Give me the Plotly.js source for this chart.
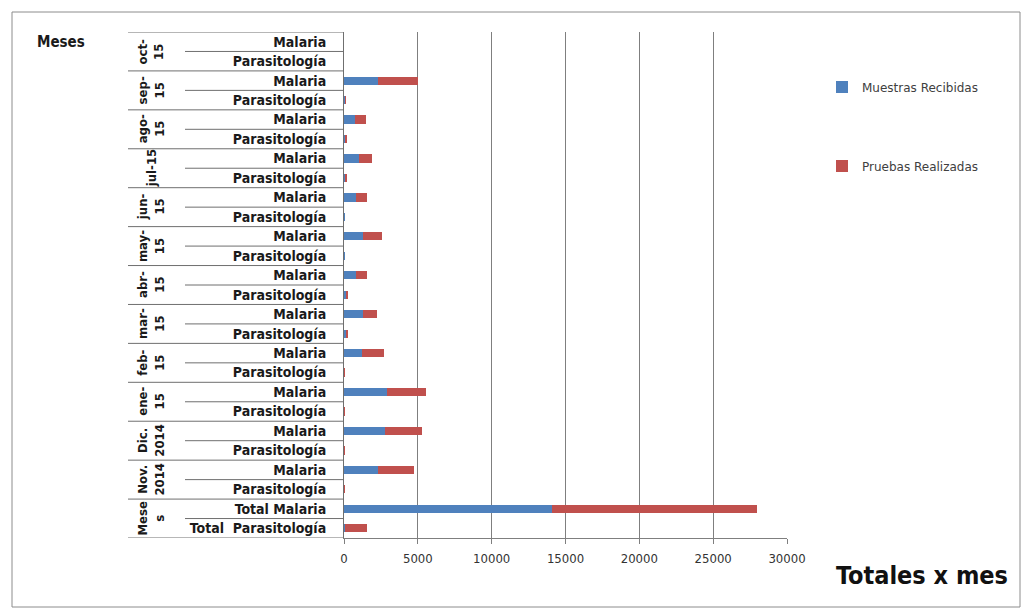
<!DOCTYPE html>
<html>
<head>
<meta charset="utf-8">
<script src="https://cdn.plot.ly/plotly-3.0.1.min.js"></script>
<style>
html,body{margin:0;padding:0;background:#fff;}
#chart{width:1026px;height:614px;}
</style>
</head>
<body>
<div id="chart"></div>
<script>
// Rows listed bottom -> top
const rowLabels = [
  "Total\u00a0\u00a0Parasitología","Total Malaria",
  "Parasitología","Malaria",
  "Parasitología","Malaria",
  "Parasitología","Malaria",
  "Parasitología","Malaria",
  "Parasitología","Malaria",
  "Parasitología","Malaria",
  "Parasitología","Malaria",
  "Parasitología","Malaria",
  "Parasitología","Malaria",
  "Parasitología","Malaria",
  "Parasitología","Malaria",
  "Parasitología","Malaria"
];
const groupLabels = ["Mese<br>s","Nov.<br>2014","Dic.<br>2014","ene-<br>15","feb-<br>15","mar-<br>15",
                     "abr-<br>15","may-<br>15","jun-<br>15","jul-15","ago-<br>15","sep-<br>15","oct-<br>15"];
const muestrasRecibidas = [50,14100, 30,2300, 30,2800, 30,2900, 30,1200, 150,1300,
                           150,800, 40,1300, 40,800, 100,1000, 100,750, 80,2300, 0,0];
const pruebasRealizadas = [1500,13900, 30,2450, 30,2500, 30,2650, 20,1500, 100,950,
                           100,750, 40,1270, 40,750, 100,900, 100,750, 80,2700, 0,0];
const xTicks = [0,5000,10000,15000,20000,25000,30000];
const seriesNames = ["Muestras Recibidas","Pruebas Realizadas"];

const rowIdx = rowLabels.map((_, i) => i);
const labelFont = "DejaVu Sans Condensed, Liberation Sans Narrow, sans-serif";

const traces = [
  {type:"bar", orientation:"h", name:seriesNames[0], y:rowIdx, x:muestrasRecibidas,
   marker:{color:"#4F81BD"}, legend:"legend"},
  {type:"bar", orientation:"h", name:seriesNames[1], y:rowIdx, x:pruebasRealizadas,
   marker:{color:"#C0504D"}, legend:"legend2"}
];

// table lines in the label area
const shapes = [];
const lineColor = "#6f6f6f";
const plotL = 344, plotR = 787, plotT = 32, plotB = 538;
const pw = plotR - plotL;
const xpOuter = (128 - plotL) / pw;
const xpInner = (185 - plotL) / pw;
for (let b = 0; b <= rowLabels.length; b++) {
  const isGroup = (b % 2 === 0);
  shapes.push({type:"line", xref:"paper", yref:"y", x0:isGroup ? xpOuter : xpInner, x1:0,
               y0:b - 0.5, y1:b - 0.5, line:{color:lineColor, width:1}});
}
// outer chart frame
const ph = plotB - plotT;
shapes.push({type:"rect", xref:"paper", yref:"paper",
  x0:(12 - plotL)/pw, x1:(1020 - plotL)/pw, y0:(plotB - 607)/ph, y1:(plotB - 12)/ph,
  line:{color:"#8c8c8c", width:1}, fillcolor:"rgba(0,0,0,0)"});

const annotations = groupLabels.map((g, k) => ({
  xref:"paper", yref:"y", x:(151 - plotL)/pw, y:2*k + 0.5, text:g, textangle:-90,
  showarrow:false, xanchor:"center", yanchor:"middle",
  font:{family:labelFont, size:13, color:"#1a1a1a", weight:"bold"}
}));
annotations.push({xref:"paper", yref:"paper", x:(35 - plotL)/pw, y:(plotB - 42)/ph,
  text:"<b>Meses</b>", showarrow:false, xanchor:"left", yanchor:"middle",
  font:{family:labelFont, size:15, color:"#1a1a1a"}});
annotations.push({xref:"paper", yref:"paper", x:(1010 - plotL)/pw, y:(plotB - 575)/ph,
  text:"<b>Totales x mes</b>", showarrow:false, xanchor:"right", yanchor:"middle",
  font:{family:labelFont, size:25, color:"#111"}});

const legendFont = {family:"DejaVu Sans, sans-serif", size:12, color:"#404040"};
const layout = {
  width:1026, height:614,
  margin:{l:plotL, r:1026 - plotR, t:plotT, b:614 - plotB, pad:0},
  paper_bgcolor:"#fff", plot_bgcolor:"#fff",
  barmode:"stack", bargap:0.58,
  showlegend:true,
  xaxis:{range:[0,30000], tickvals:xTicks, ticktext:xTicks.map(String),
    showgrid:true, gridcolor:"#7f7f7f", gridwidth:1, zeroline:false,
    showline:true, linecolor:"#7f7f7f", linewidth:1, mirror:false,
    ticks:"outside", ticklen:5, tickcolor:"#7f7f7f", ticklabelstandoff:3,
    tickfont:{family:labelFont, size:13, color:"#333"}, fixedrange:true},
  yaxis:{range:[-0.5, rowLabels.length - 0.5], tickvals:rowIdx, ticktext:rowLabels,
    showgrid:false, zeroline:false, showline:true, linecolor:"#6f6f6f", linewidth:1,
    ticks:"", ticklabelstandoff:14,
    tickfont:{family:labelFont, size:14, color:"#1a1a1a", weight:"bold"}, fixedrange:true},
  legend:{x:(822 - plotL)/pw, y:(plotB - 87)/ph, xanchor:"left", yanchor:"middle",
    bgcolor:"rgba(0,0,0,0)", font:legendFont},
  legend2:{x:(822 - plotL)/pw, y:(plotB - 166)/ph, xanchor:"left", yanchor:"middle",
    bgcolor:"rgba(0,0,0,0)", font:legendFont},
  shapes:shapes,
  annotations:annotations
};

Plotly.newPlot("chart", traces, layout, {displayModeBar:false, staticPlot:true});
</script>
</body>
</html>
